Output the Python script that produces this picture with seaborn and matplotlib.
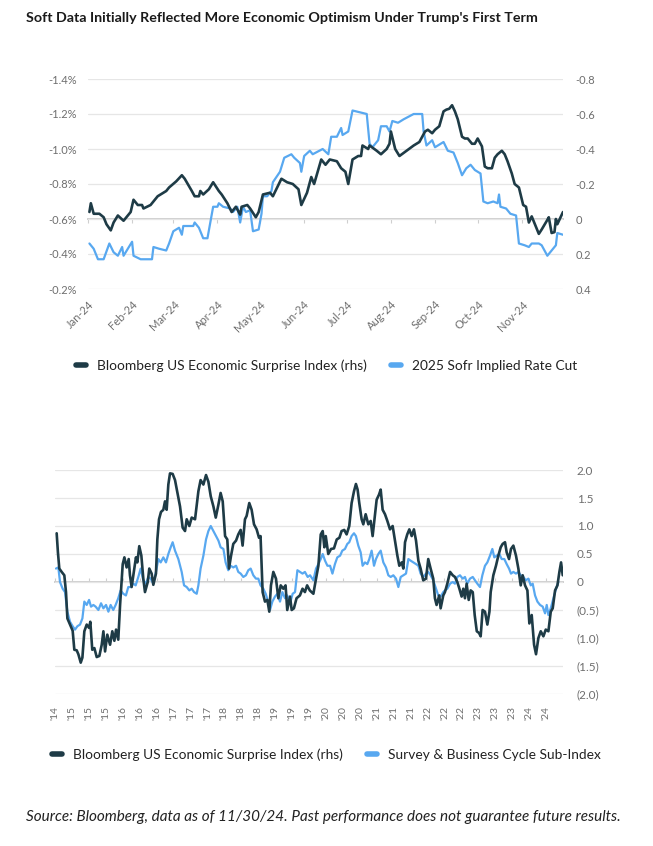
import matplotlib
matplotlib.use("Agg")
import numpy as np
import pandas as pd
import matplotlib.pyplot as plt
import matplotlib.dates as mdates
import matplotlib.ticker as mticker
from matplotlib.lines import Line2D
import seaborn as sns

sns.set_theme(style="white")
plt.rcParams["font.family"] = ["Lato", "DejaVu Sans"]

DARK = "#1e3b46"
BLUE = "#58a8f0"
GRID = "#e6e6e6"
ZERO = "#cfcfcf"
TICK = "#6e6e6e"

# Top chart: 2025 SOFR implied rate cut (%, lhs) and Bloomberg surprise index (rhs)
sofr_dates = [
    "2024-01-02", "2024-01-05", "2024-01-08", "2024-01-12", "2024-01-16", "2024-01-19",
    "2024-01-22", "2024-01-25", "2024-01-26", "2024-02-01", "2024-02-02", "2024-02-07",
    "2024-02-15", "2024-02-16", "2024-02-20", "2024-02-25", "2024-02-27", "2024-03-01",
    "2024-03-05", "2024-03-07", "2024-03-08", "2024-03-15", "2024-03-16", "2024-03-19",
    "2024-03-22", "2024-03-25", "2024-03-29", "2024-04-01", "2024-04-02", "2024-04-05",
    "2024-04-10", "2024-04-12", "2024-04-15", "2024-04-17", "2024-04-19", "2024-04-21",
    "2024-04-24", "2024-04-26", "2024-04-30", "2024-05-02", "2024-05-03", "2024-05-06",
    "2024-05-09", "2024-05-10", "2024-05-15", "2024-05-18", "2024-05-23", "2024-05-25",
    "2024-05-29", "2024-05-30", "2024-06-01", "2024-06-05", "2024-06-07", "2024-06-14",
    "2024-06-18", "2024-06-20", "2024-06-24", "2024-06-27", "2024-06-28", "2024-07-02",
    "2024-07-05", "2024-07-10", "2024-07-15", "2024-07-17", "2024-07-19", "2024-07-23",
    "2024-07-25", "2024-07-29", "2024-07-31", "2024-08-02", "2024-08-06", "2024-08-10",
    "2024-08-17", "2024-08-23", "2024-08-24", "2024-08-26", "2024-08-30", "2024-09-01",
    "2024-09-07", "2024-09-10", "2024-09-14", "2024-09-17", "2024-09-20", "2024-09-23",
    "2024-09-26", "2024-09-29", "2024-10-03", "2024-10-05", "2024-10-08", "2024-10-12",
    "2024-10-15", "2024-10-16", "2024-10-17", "2024-10-21", "2024-10-24", "2024-10-28",
    "2024-10-30", "2024-11-03", "2024-11-06", "2024-11-08", "2024-11-13", "2024-11-15",
    "2024-11-19", "2024-11-22", "2024-11-25", "2024-11-26", "2024-11-30",
]
sofr_cut = [
    -0.46, -0.43, -0.37, -0.37, -0.46, -0.41, -0.39, -0.44, -0.39, -0.47, -0.39, -0.37,
    -0.37, -0.44, -0.43, -0.42, -0.46, -0.53, -0.55, -0.51, -0.56, -0.56, -0.58, -0.55,
    -0.49, -0.49, -0.67, -0.67, -0.69, -0.67, -0.66, -0.64, -0.67, -0.58, -0.67, -0.64,
    -0.65, -0.53, -0.54, -0.63, -0.73, -0.73, -0.76, -0.81, -0.87, -0.95, -0.97, -0.95,
    -0.92, -0.87, -0.96, -0.99, -0.97, -1.00, -0.97, -1.07, -1.07, -1.12, -1.08, -1.10,
    -1.22, -1.21, -1.20, -1.03, -1.01, -1.05, -1.13, -1.13, -1.10, -1.16, -1.15, -1.17,
    -1.20, -1.20, -1.10, -1.02, -1.05, -1.01, -1.04, -0.99, -0.98, -0.92, -0.85, -0.89,
    -0.91, -0.88, -0.86, -0.70, -0.69, -0.70, -0.69, -0.74, -0.67, -0.66, -0.63, -0.62,
    -0.46, -0.45, -0.44, -0.46, -0.46, -0.45, -0.39, -0.42, -0.45, -0.52, -0.51,
]

esi_top_dates = [
    "2024-01-02", "2024-01-03", "2024-01-05", "2024-01-09", "2024-01-12", "2024-01-14",
    "2024-01-17", "2024-01-19", "2024-01-22", "2024-01-26", "2024-01-29", "2024-01-31",
    "2024-02-02", "2024-02-05", "2024-02-08", "2024-02-09", "2024-02-14", "2024-02-19",
    "2024-02-25", "2024-02-27", "2024-03-03", "2024-03-07", "2024-03-09", "2024-03-14",
    "2024-03-16", "2024-03-19", "2024-03-20", "2024-03-22", "2024-03-26", "2024-03-29",
    "2024-04-02", "2024-04-04", "2024-04-08", "2024-04-11", "2024-04-14", "2024-04-16",
    "2024-04-17", "2024-04-18", "2024-04-22", "2024-04-24", "2024-04-28", "2024-04-30",
    "2024-05-03", "2024-05-08", "2024-05-10", "2024-05-13", "2024-05-16", "2024-05-20",
    "2024-05-24", "2024-05-28", "2024-05-30", "2024-06-03", "2024-06-06", "2024-06-08",
    "2024-06-13", "2024-06-16", "2024-06-19", "2024-06-24", "2024-06-27", "2024-06-30",
    "2024-07-02", "2024-07-05", "2024-07-09", "2024-07-11", "2024-07-12", "2024-07-16",
    "2024-07-17", "2024-07-22", "2024-07-25", "2024-07-29", "2024-07-31", "2024-08-01",
    "2024-08-04", "2024-08-07", "2024-08-12", "2024-08-17", "2024-08-21", "2024-08-25",
    "2024-08-27", "2024-08-30", "2024-09-01", "2024-09-04", "2024-09-07", "2024-09-09",
    "2024-09-11", "2024-09-13", "2024-09-15", "2024-09-17", "2024-09-20", "2024-09-22",
    "2024-09-24", "2024-09-27", "2024-09-29", "2024-10-01", "2024-10-04", "2024-10-06",
    "2024-10-08", "2024-10-11", "2024-10-13", "2024-10-15", "2024-10-18", "2024-10-20",
    "2024-10-22", "2024-10-25", "2024-10-27", "2024-10-30", "2024-11-02", "2024-11-04",
    "2024-11-06", "2024-11-08", "2024-11-13", "2024-11-15", "2024-11-19", "2024-11-20",
    "2024-11-22", "2024-11-24", "2024-11-25", "2024-11-26", "2024-11-28", "2024-11-30",
]
esi_top = [
    -0.04, -0.09, -0.03, -0.03, -0.01, 0.03, 0.065, 0.02, -0.02, 0.01, -0.02, -0.04,
    -0.11, -0.08, -0.08, -0.06, -0.08, -0.13, -0.16, -0.18, -0.215, -0.25, -0.23, -0.16,
    -0.13, -0.13, -0.16, -0.14, -0.17, -0.21, -0.16, -0.14, -0.09, -0.04, -0.07, -0.04,
    -0.025, -0.07, -0.08, -0.06, -0.01, -0.04, -0.14, -0.15, -0.13, -0.18, -0.23, -0.21,
    -0.20, -0.17, -0.08, -0.15, -0.24, -0.20, -0.34, -0.31, -0.34, -0.33, -0.29, -0.27,
    -0.20, -0.34, -0.36, -0.36, -0.42, -0.40, -0.42, -0.39, -0.37, -0.40, -0.43, -0.50,
    -0.40, -0.36, -0.39, -0.42, -0.44, -0.50, -0.51, -0.49, -0.51, -0.53, -0.615, -0.625,
    -0.63, -0.65, -0.615, -0.57, -0.47, -0.46, -0.46, -0.43, -0.43, -0.46, -0.415, -0.30,
    -0.29, -0.29, -0.35, -0.37, -0.39, -0.37, -0.33, -0.26, -0.20, -0.18, -0.08, -0.07,
    0.02, -0.015, 0.085, 0.06, 0.005, -0.01, 0.08, 0.075, 0.0, 0.03, -0.005, -0.04,
]

# Bottom chart: Bloomberg surprise index and survey & business cycle sub-index
esi_dates = [
    "2014-12-13", "2014-12-22", "2015-01-01", "2015-01-18", "2015-02-06", "2015-02-18",
    "2015-02-28", "2015-03-19", "2015-04-07", "2015-04-19", "2015-05-06", "2015-05-18",
    "2015-06-04", "2015-06-16", "2015-06-30", "2015-07-17", "2015-08-03", "2015-08-12",
    "2015-08-26", "2015-09-10", "2015-09-27", "2015-10-16", "2015-11-02", "2015-11-14",
    "2015-11-26", "2015-12-12", "2016-01-01", "2016-01-17", "2016-02-01", "2016-02-13",
    "2016-02-29", "2016-03-13", "2016-04-01", "2016-04-13", "2016-04-29", "2016-05-14",
    "2016-05-23", "2016-06-04", "2016-06-16", "2016-07-05", "2016-07-15", "2016-07-29",
    "2016-08-13", "2016-08-27", "2016-09-08", "2016-09-28", "2016-10-09", "2016-10-26",
    "2016-11-07", "2016-11-26", "2016-12-06", "2016-12-18", "2017-01-01", "2017-01-18",
    "2017-01-30", "2017-02-11", "2017-02-23", "2017-03-07", "2017-03-26", "2017-04-12",
    "2017-05-18", "2017-06-06", "2017-06-23", "2017-07-05", "2017-07-24", "2017-08-10",
    "2017-09-03", "2017-09-27", "2017-10-13", "2017-11-02", "2017-11-21", "2017-12-08",
    "2017-12-25", "2018-01-13", "2018-01-30", "2018-02-18", "2018-03-06", "2018-03-21",
    "2018-04-07", "2018-04-23", "2018-05-05", "2018-05-20", "2018-06-05", "2018-06-25",
    "2018-07-11", "2018-07-28", "2018-08-11", "2018-08-28", "2018-09-09", "2018-09-28",
    "2018-10-15", "2018-11-01", "2018-11-20", "2018-12-07", "2018-12-18", "2019-01-02",
    "2019-01-19", "2019-02-05", "2019-02-19", "2019-03-03", "2019-03-20", "2019-04-08",
    "2019-04-25", "2019-05-12", "2019-05-31", "2019-06-16", "2019-06-28", "2019-07-18",
    "2019-07-30", "2019-08-15", "2019-09-03", "2019-09-27", "2019-10-16", "2019-11-02",
    "2019-11-18", "2019-12-07", "2020-01-02", "2020-01-21", "2020-02-07", "2020-02-24",
    "2020-03-09", "2020-03-21", "2020-03-31", "2020-04-18", "2020-05-08", "2020-05-29",
    "2020-06-18", "2020-07-07", "2020-07-23", "2020-08-11", "2020-08-28", "2020-09-16",
    "2020-10-03", "2020-10-20", "2020-11-03", "2020-11-15", "2020-11-27", "2020-12-14",
    "2020-12-26", "2021-01-12", "2021-01-31", "2021-02-17", "2021-03-03", "2021-03-20",
    "2021-04-01", "2021-04-18", "2021-04-30", "2021-05-14", "2021-05-31", "2021-06-17",
    "2021-07-06", "2021-07-25", "2021-08-11", "2021-08-28", "2021-09-11", "2021-09-28",
    "2021-10-10", "2021-10-22", "2021-11-07", "2021-11-22", "2021-12-09", "2021-12-25",
    "2022-01-09", "2022-01-26", "2022-02-11", "2022-03-02", "2022-03-22", "2022-04-07",
    "2022-04-24", "2022-05-13", "2022-05-25", "2022-06-06", "2022-06-25", "2022-07-05",
    "2022-07-24", "2022-08-05", "2022-08-22", "2022-09-11", "2022-09-30", "2022-10-16",
    "2022-11-02", "2022-11-17", "2022-12-03", "2022-12-15", "2022-12-27", "2023-01-08",
    "2023-01-23", "2023-02-06", "2023-02-21", "2023-03-07", "2023-03-22", "2023-04-07",
    "2023-04-19", "2023-05-03", "2023-05-20", "2023-06-06", "2023-06-21", "2023-06-30",
    "2023-07-19", "2023-08-07", "2023-08-24", "2023-09-10", "2023-09-24", "2023-10-11",
    "2023-10-23", "2023-11-09", "2023-11-23", "2023-12-10", "2023-12-29", "2024-01-15",
    "2024-02-01", "2024-02-15", "2024-03-03", "2024-03-20", "2024-04-03", "2024-04-20",
    "2024-05-07", "2024-05-21", "2024-06-07", "2024-06-24", "2024-07-13", "2024-07-30",
    "2024-08-18", "2024-09-04", "2024-09-18", "2024-10-05", "2024-10-22", "2024-11-05",
    "2024-11-17", "2024-11-29",
]
esi = [
    0.87, 0.53, 0.24, 0.18, 0.12, -0.18, -0.65, -0.76, -0.87, -1.21, -1.22, -1.29,
    -1.44, -1.35, -0.88, -0.76, -0.82, -0.71, -1.21, -1.18, -1.34, -1.32, -1.12, -0.88,
    -1.24, -0.94, -1.12, -0.88, -1.05, -0.85, -1.03, -0.41, 0.32, 0.44, 0.26, 0.41,
    0.12, -0.09, 0.12, 0.44, 0.35, 0.64, 0.47, 0.06, -0.18, 0.0, 0.24, 0.15,
    -0.05, 0.15, 0.76, 1.12, 1.25, 1.29, 1.44, 1.29, 1.74, 1.94, 1.93, 1.82,
    1.35, 0.97, 0.91, 1.12, 1.0, 1.15, 1.12, 1.62, 1.82, 1.74, 1.91, 1.79,
    1.53, 1.35, 1.15, 1.38, 1.59, 1.44, 0.82, 0.76, 0.24, 0.47, 0.68, 0.74,
    0.85, 0.93, 0.65, 1.12, 1.18, 1.41, 1.29, 1.03, 0.94, 0.79, 0.82, -0.18,
    -0.35, -0.32, -0.53, -0.06, 0.18, 0.06, -0.29, -0.06, -0.12, -0.06, -0.5, -0.26,
    -0.5, -0.47, -0.29, -0.24, -0.12, -0.18, -0.06, -0.15, -0.21, 0.06, 0.29, 0.85,
    0.91, 0.62, 0.82, 0.5, 0.59, 0.6, 0.76, 0.79, 0.91, 0.93, 0.85, 1.0,
    1.41, 1.62, 1.75, 1.65, 1.41, 1.12, 1.03, 1.21, 1.03, 1.09, 0.82, 1.21,
    1.47, 1.56, 1.65, 1.29, 1.21, 1.09, 0.94, 1.0, 0.74, 0.47, 0.29, 0.35,
    0.24, 0.71, 0.85, 0.94, 0.82, 0.94, 0.74, 0.38, 0.24, 0.03, 0.06, 0.41,
    0.24, 0.06, -0.29, -0.41, -0.24, -0.47, -0.24, -0.18, -0.03, 0.18, 0.12, 0.09,
    0.0, -0.12, -0.26, -0.12, -0.29, -0.03, -0.32, -0.15, -0.18, -0.59, -0.88, -0.91,
    -0.97, -0.5, -0.53, -0.76, -0.53, -0.18, 0.12, 0.29, 0.47, 0.62, 0.68, 0.71,
    0.53, 0.41, 0.59, 0.65, 0.47, 0.24, -0.06, 0.12, -0.06, -0.15, -0.74, -0.59,
    -1.12, -1.29, -1.0, -0.88, -0.97, -0.85, -0.88, -0.53, -0.47, -0.15, -0.06, 0.18,
    0.35, 0.12,
]

survey_dates = [
    "2014-12-08", "2014-12-25", "2015-01-06", "2015-01-25", "2015-02-11", "2015-02-28",
    "2015-03-19", "2015-04-07", "2015-04-24", "2015-05-11", "2015-05-30", "2015-06-16",
    "2015-06-30", "2015-07-17", "2015-08-03", "2015-08-17", "2015-09-03", "2015-09-19",
    "2015-10-09", "2015-10-28", "2015-11-14", "2015-12-03", "2015-12-20", "2016-01-05",
    "2016-01-24", "2016-02-10", "2016-02-29", "2016-03-17", "2016-04-05", "2016-04-24",
    "2016-05-11", "2016-05-28", "2016-06-16", "2016-07-03", "2016-07-22", "2016-08-08",
    "2016-08-27", "2016-09-15", "2016-10-02", "2016-10-19", "2016-11-07", "2016-11-26",
    "2016-12-13", "2016-12-30", "2017-01-18", "2017-02-06", "2017-02-23", "2017-03-12",
    "2017-03-26", "2017-04-12", "2017-05-06", "2017-05-30", "2017-06-16", "2017-07-05",
    "2017-07-24", "2017-08-10", "2017-08-27", "2017-09-15", "2017-09-27", "2017-10-13",
    "2017-11-02", "2017-11-21", "2017-12-08", "2017-12-25", "2018-01-13", "2018-02-01",
    "2018-02-18", "2018-03-06", "2018-03-26", "2018-04-11", "2018-04-30", "2018-05-17",
    "2018-06-05", "2018-06-25", "2018-07-11", "2018-07-28", "2018-08-16", "2018-09-04",
    "2018-09-21", "2018-10-08", "2018-10-27", "2018-11-15", "2018-12-02", "2018-12-18",
    "2019-01-07", "2019-01-24", "2019-02-07", "2019-02-24", "2019-03-13", "2019-04-01",
    "2019-04-18", "2019-05-07", "2019-05-24", "2019-06-12", "2019-06-28", "2019-07-18",
    "2019-08-06", "2019-08-23", "2019-09-09", "2019-09-27", "2019-10-16", "2019-11-02",
    "2019-11-22", "2019-12-09", "2020-01-02", "2020-01-21", "2020-02-07", "2020-02-24",
    "2020-03-09", "2020-03-26", "2020-04-12", "2020-05-01", "2020-05-18", "2020-06-05",
    "2020-06-22", "2020-07-12", "2020-07-28", "2020-08-16", "2020-09-02", "2020-09-16",
    "2020-10-03", "2020-10-20", "2020-11-03", "2020-11-20", "2020-12-07", "2020-12-21",
    "2021-01-07", "2021-01-24", "2021-02-07", "2021-02-24", "2021-03-13", "2021-03-27",
    "2021-04-13", "2021-04-30", "2021-05-19", "2021-06-07", "2021-06-24", "2021-07-11",
    "2021-07-30", "2021-08-18", "2021-09-04", "2021-09-21", "2021-10-10", "2021-10-29",
    "2021-11-15", "2021-12-02", "2021-12-21", "2022-01-09", "2022-01-26", "2022-02-11",
    "2022-03-02", "2022-03-22", "2022-04-07", "2022-04-24", "2022-05-13", "2022-06-02",
    "2022-06-18", "2022-07-05", "2022-07-24", "2022-08-05", "2022-08-22", "2022-09-11",
    "2022-09-30", "2022-10-16", "2022-11-02", "2022-11-21", "2022-12-11", "2022-12-27",
    "2023-01-13", "2023-02-01", "2023-02-21", "2023-03-09", "2023-03-26", "2023-04-14",
    "2023-05-01", "2023-05-20", "2023-06-06", "2023-06-25", "2023-07-12", "2023-07-26",
    "2023-08-12", "2023-08-31", "2023-09-17", "2023-10-06", "2023-10-23", "2023-11-09",
    "2023-11-23", "2023-12-10", "2023-12-29", "2024-01-15", "2024-02-01", "2024-02-20",
    "2024-03-08", "2024-03-27", "2024-04-13", "2024-04-27", "2024-05-14", "2024-05-31",
    "2024-06-19", "2024-07-08", "2024-07-25", "2024-08-06", "2024-08-18", "2024-09-04",
    "2024-09-23", "2024-10-12", "2024-10-29",
]
survey = [
    0.24, 0.26, 0.0, -0.12, -0.18, -0.53, -0.71, -0.79, -0.85, -0.79, -0.76, -0.65,
    -0.35, -0.41, -0.32, -0.44, -0.41, -0.44, -0.5, -0.38, -0.47, -0.41, -0.53, -0.41,
    -0.5, -0.41, -0.29, -0.15, -0.21, -0.24, -0.09, -0.09, -0.03, -0.06, 0.09, 0.24,
    0.03, -0.03, 0.09, 0.06, -0.03, 0.18, 0.41, 0.35, 0.44, 0.35, 0.5, 0.62,
    0.71, 0.56, 0.41, 0.18, -0.06, -0.09, -0.15, -0.12, -0.18, -0.21, -0.06, 0.24,
    0.47, 0.76, 0.91, 1.0, 0.91, 0.82, 0.74, 0.62, 0.59, 0.35, 0.21, 0.29,
    0.26, 0.29, 0.18, 0.15, 0.09, 0.12, 0.21, 0.24, 0.12, 0.06, 0.06, -0.06,
    -0.12, -0.21, -0.32, -0.5, -0.35, -0.26, -0.21, -0.35, -0.18, -0.29, -0.24, -0.38,
    -0.21, -0.18, 0.21, 0.18, 0.15, 0.18, 0.09, 0.12, 0.03, 0.24, 0.32, 0.41,
    0.5, 0.38, 0.29, 0.29, 0.15, 0.32, 0.44, 0.47, 0.56, 0.59, 0.68, 0.71,
    0.82, 0.87, 0.82, 0.65, 0.53, 0.29, 0.35, 0.32, 0.41, 0.56, 0.29, 0.41,
    0.5, 0.56, 0.35, 0.26, 0.12, 0.09, 0.12, 0.06, -0.09, 0.09, 0.12, 0.15,
    0.41, 0.38, 0.35, 0.32, 0.29, 0.15, 0.09, 0.15, 0.18, 0.12, 0.03, -0.12,
    -0.24, -0.26, -0.18, -0.15, -0.12, -0.03, 0.0, -0.03, 0.09, 0.12, 0.06, 0.09,
    -0.03, 0.06, 0.09, 0.03, -0.03, -0.09, 0.12, 0.29, 0.35, 0.47, 0.59, 0.44,
    0.47, 0.5, 0.41, 0.41, 0.32, 0.24, 0.15, 0.18, 0.15, 0.18, 0.12, 0.09,
    0.03, 0.06, -0.06, -0.03, -0.24, -0.35, -0.41, -0.44, -0.56, -0.41, -0.59, -0.47,
    -0.29, -0.12, 0.0,
]

title = "Soft Data Initially Reflected More Economic Optimism Under Trump's First Term"
source = "Source: Bloomberg, data as of 11/30/24. Past performance does not guarantee future results."
esi_label = "Bloomberg US Economic Surprise Index (rhs)"
sofr_label = "2025 Sofr Implied Rate Cut"
survey_label = "Survey & Business Cycle Sub-Index"

top_df = pd.DataFrame({"date": pd.to_datetime(sofr_dates), "value": sofr_cut})
top_esi_df = pd.DataFrame({"date": pd.to_datetime(esi_top_dates), "value": esi_top})
esi_df = pd.DataFrame({"date": pd.to_datetime(esi_dates), "value": esi})
survey_df = pd.DataFrame({"date": pd.to_datetime(survey_dates), "value": survey})

W, H = 653, 846
fig = plt.figure(figsize=(W / 100, H / 100), dpi=100)


def clean(ax):
    for s in ax.spines.values():
        s.set_visible(False)
    ax.set_xlabel("")
    ax.set_ylabel("")


def zero_axis(ax, frac, locator):
    sec = ax.secondary_xaxis(frac)
    sec.xaxis.set_major_locator(locator)
    sec.tick_params(axis="x", length=3, width=0.8, color=ZERO, direction="out",
                    labelbottom=False, labeltop=False)
    for s in sec.spines.values():
        s.set_color(ZERO)
        s.set_linewidth(1.4)
    return sec


# ---- top chart
ax1 = fig.add_axes([88 / W, 1 - 289 / H, 475 / W, 210 / H])
sns.lineplot(data=top_df, x="date", y="value", ax=ax1, color=BLUE, linewidth=1.6)
ax1.set_ylim(-0.2, -1.4)
ax1.set_yticks(np.linspace(-1.4, -0.2, 7))
ax1.yaxis.set_major_formatter(mticker.FuncFormatter(lambda v, p: f"{v:.1f}%"))
ax1.set_xlim(pd.Timestamp("2024-01-01"), pd.Timestamp("2024-11-30"))
ax1.xaxis.set_major_locator(mdates.MonthLocator())
ax1.xaxis.set_major_formatter(mdates.DateFormatter("%b-%y"))
ax1.grid(axis="y", color=GRID, linewidth=0.9)
ax1.set_axisbelow(True)
ax1.tick_params(axis="y", length=0, pad=8, labelsize=8, labelcolor=TICK)
ax1.tick_params(axis="x", length=0, pad=7, labelsize=8, labelcolor=TICK)
plt.setp(ax1.get_xticklabels(), rotation=45, ha="right", rotation_mode="anchor")
clean(ax1)
zero_axis(ax1, 1 / 3, mdates.MonthLocator())

ax2 = ax1.twinx()
sns.lineplot(data=top_esi_df, x="date", y="value", ax=ax2, color=DARK, linewidth=1.9)
ax2.set_ylim(0.4, -0.8)
ax2.set_yticks(np.linspace(-0.8, 0.4, 7))
ax2.yaxis.set_major_formatter(
    mticker.FuncFormatter(lambda v, p: "0" if abs(v) < 1e-9 else f"{v:.1f}"))
ax2.tick_params(axis="y", length=0, pad=9, labelsize=8, labelcolor=TICK)
clean(ax2)

handles = [Line2D([0], [0], color=DARK, lw=4, solid_capstyle="round"),
           Line2D([0], [0], color=BLUE, lw=4, solid_capstyle="round")]
fig.legend(handles, [esi_label, sofr_label], loc="center", bbox_to_anchor=(0.5, 1 - 366 / H),
           ncol=2, frameon=False, handlelength=0.7, handletextpad=0.8, columnspacing=1.8,
           fontsize=9.9, labelcolor="#222222")

# ---- bottom chart
ax3 = fig.add_axes([55 / W, 1 - 694 / H, 508 / W, 224 / H])
sns.lineplot(data=survey_df, x="date", y="value", ax=ax3, color=BLUE, linewidth=1.6)
sns.lineplot(data=esi_df, x="date", y="value", ax=ax3, color=DARK, linewidth=1.9)
ax3.set_ylim(-2, 2)
ax3.yaxis.tick_right()
ax3.set_yticks(np.linspace(-2, 2, 9))
ax3.yaxis.set_major_formatter(mticker.FuncFormatter(
    lambda v, p: "0" if abs(v) < 1e-9 else (f"({abs(v):.1f})" if v < 0 else f"{v:.1f}")))
ax3.set_xlim(pd.Timestamp("2014-12-01"), pd.Timestamp("2024-12-01"))
bottom_ticks = pd.date_range("2014-12-01", periods=30, freq="4MS")
ax3.set_xticks(bottom_ticks)
ax3.set_xticklabels([f"'{d:%y}" for d in bottom_ticks], rotation=90)
ax3.grid(axis="y", color=GRID, linewidth=0.9)
ax3.set_axisbelow(True)
ax3.tick_params(axis="y", length=0, pad=10, labelsize=8.5, labelcolor=TICK)
ax3.tick_params(axis="x", length=0, pad=9, labelsize=7.5, labelcolor=TICK)
clean(ax3)
zero_axis(ax3, 0.5, mticker.FixedLocator(mdates.date2num(bottom_ticks)))

fig.legend(handles, [esi_label, survey_label], loc="center", bbox_to_anchor=(0.5, 1 - 755 / H),
           ncol=2, frameon=False, handlelength=0.7, handletextpad=0.8, columnspacing=1.8,
           fontsize=9.9, labelcolor="#222222")

fig.text(26 / W, 1 - 18 / H, title, fontsize=10.3, fontweight="bold", color="#1a1a1a",
         ha="left", va="center")
fig.text(26 / W, 1 - 817 / H, source, fontsize=11, style="italic", color="#222222",
         ha="left", va="center")

fig.savefig("out.png", dpi=100, facecolor="white")
